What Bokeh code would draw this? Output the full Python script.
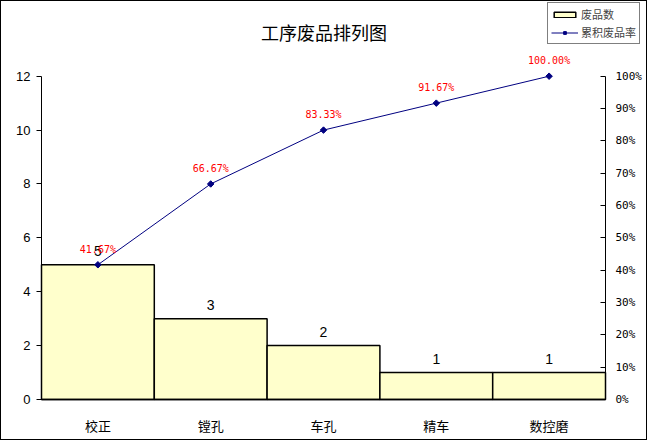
import math
from bokeh.plotting import figure
from bokeh.models import (ColumnDataSource, Range1d, LinearAxis, FixedTicker,
                          PrintfTickFormatter, LabelSet, Label, Legend, LegendItem, FactorRange)
from bokeh.core.properties import value
from bokeh.embed import file_html
from bokeh.resources import INLINE

title_text = "工序废品排列图"
categories = ["校正", "镗孔", "车孔", "精车", "数控磨"]
counts = [5, 3, 2, 1, 1]
cum_pct = [41.67, 66.67, 83.33, 91.67, 100.00]
left_ticks = [0, 2, 4, 6, 8, 10, 12]
right_ticks = [0, 10, 20, 30, 40, 50, 60, 70, 80, 90, 100]
bar_name = "废品数"
line_name = "累积废品率"

CJK = "Noto Sans CJK SC"

# ---- layout (pixels) ----
W, H = 647, 440
RIGHT_BORDER = 3
FRAME_W = W - RIGHT_BORDER
PAD_X = 40            # px between frame edge and first/last bar edge
Y_TOP_PX = 74.7       # px from top where the axis max sits
Y_ZERO_PX = 398       # px from top where 0 sits

L_MAX = left_ticks[-1]
R_MAX = right_ticks[-1]
ppu = (Y_ZERO_PX - Y_TOP_PX) / L_MAX
y_start = -(H - Y_ZERO_PX) / ppu
y_end = L_MAX + Y_TOP_PX / ppu
pad_frac = 2 * PAD_X / (FRAME_W - 2 * PAD_X)

src = ColumnDataSource(dict(
    cat=categories,
    cnt=counts,
    cnt_txt=[str(c) for c in counts],
    pct=cum_pct,
    pct_txt=["%.2f%%" % v for v in cum_pct],
))

p = figure(width=W, height=H,
           x_range=FactorRange(*categories, range_padding=pad_frac),
           y_range=Range1d(y_start, y_end), output_backend="svg", toolbar_location=None,
           min_border_left=0, min_border_right=RIGHT_BORDER, min_border_top=0, min_border_bottom=0)
p.styles = {"border": "1px solid black"}
p.extra_y_ranges = {"pct": Range1d(y_start / L_MAX * R_MAX, y_end / L_MAX * R_MAX)}

p.xgrid.visible = False
p.ygrid.visible = False
p.outline_line_color = None
p.background_fill_color = "white"
p.border_fill_color = "white"

bars = p.vbar(x="cat", top="cnt", width=1.0, source=src, fill_color="#FFFFCC",
              line_color="black", line_width=1.5)
line_r = p.line(x="cat", y="pct", source=src, y_range_name="pct", line_color="#000080", line_width=1)
pts = p.scatter(x="cat", y="pct", source=src, y_range_name="pct", marker="square", size=4.6,
                angle=math.pi / 4, fill_color="#000080", line_color="#000080")

# left axis
ya = p.yaxis[0]
ya.fixed_location = 0
ya.bounds = (0, L_MAX)
ya.ticker = FixedTicker(ticks=left_ticks)
ya.minor_tick_line_color = None
ya.major_tick_in = 0
ya.major_tick_out = 5
ya.axis_line_color = "black"
ya.axis_line_width = 1
ya.major_label_text_font = "Liberation Sans"
ya.major_label_text_font_size = "13px"
ya.major_label_text_color = "black"
ya.major_label_standoff = 6

# bottom axis
xa = p.xaxis[0]
xa.fixed_location = 0
xa.bounds = (0, len(categories))
xa.major_tick_line_color = None
xa.minor_tick_line_color = None
xa.axis_line_color = "black"
xa.axis_line_width = 1.5
xa.major_label_text_font = CJK
xa.major_label_text_font_size = "13px"
xa.major_label_text_color = "black"
xa.major_label_standoff = 10

# right axis
ra = LinearAxis(y_range_name="pct", ticker=FixedTicker(ticks=right_ticks),
                formatter=PrintfTickFormatter(format="%d%%"))
ra.fixed_location = len(categories)
ra.bounds = (0, R_MAX)
ra.minor_tick_line_color = None
ra.major_tick_in = 5
ra.major_tick_out = 0
ra.axis_line_color = "black"
ra.axis_line_width = 1
ra.major_label_text_font = "DejaVu Sans Mono"
ra.major_label_text_font_size = "11px"
ra.major_label_text_color = "black"
ra.major_label_standoff = 10
p.add_layout(ra, "right")

# labels
p.add_layout(LabelSet(x="cat", y="cnt", text="cnt_txt", source=src, y_offset=9,
                      text_align="center", text_baseline="alphabetic",
                      text_font=value("Liberation Sans"), text_font_size="14px", text_color="black"))
p.add_layout(LabelSet(x="cat", y="pct", text="pct_txt", source=src, y_range_name="pct",
                      y_offset=12, text_align="center", text_baseline="alphabetic",
                      text_font=value("DejaVu Sans Mono"), text_font_size="10px", text_color="red"))

# title
p.add_layout(Label(x=322.5, y=H - 30, x_units="screen", y_units="screen", text=title_text,
                   text_align="center", text_baseline="middle", text_font=CJK,
                   text_font_size="18px", text_color="black"))

legend = Legend(items=[LegendItem(label=bar_name, renderers=[bars]),
                       LegendItem(label=line_name, renderers=[line_r, pts])],
                location=(546, H - 43))
legend.border_line_color = "black"
legend.border_line_width = 1
legend.label_text_font = CJK
legend.label_text_font_size = "11px"
legend.glyph_width = 27
legend.glyph_height = 7
legend.label_height = 15
legend.spacing = 2
legend.padding = 3
legend.margin = 0
legend.label_standoff = 3
legend.background_fill_alpha = 1
p.add_layout(legend, "center")

open("out.html", "w").write(file_html(p, INLINE))
